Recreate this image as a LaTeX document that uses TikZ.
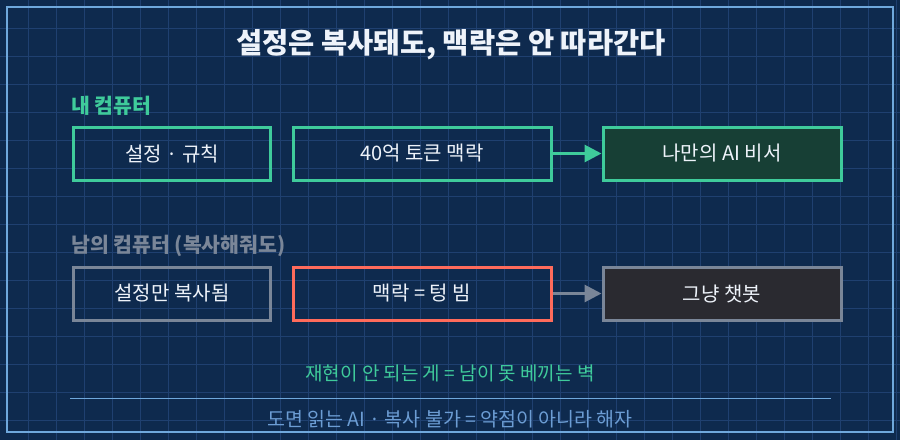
\documentclass[tikz,border=0pt]{standalone}
\usepackage{fontspec}
\setmainfont{Noto Sans CJK KR}
\usetikzlibrary{arrows.meta}
\definecolor{bg}{HTML}{0E2A4E}
\definecolor{gridc}{HTML}{1F4070}
\definecolor{framec}{HTML}{6FA8DC}
\definecolor{mygreen}{HTML}{3FCB9B}
\definecolor{mygray}{HTML}{7A8698}
\definecolor{myred}{HTML}{FF6B5B}
\definecolor{titlec}{HTML}{EEF3FA}
\definecolor{greenfill}{HTML}{173F35}
\definecolor{darkfill}{HTML}{2A2A30}
\definecolor{bottomc}{HTML}{6C9DD4}
\tikzset{
  box/.style={draw, line width=3pt, minimum height=53pt, inner sep=0pt, text=titlec, font=\fontsize{20}{22}\selectfont, anchor=north west},
  greenbox/.style={box, draw=mygreen},
  graybox/.style={box, draw=mygray},
  redbox/.style={box, draw=myred},
  conn/.style={line width=3pt, -{Triangle[length=17pt,width=17pt]}},
  sectlabel/.style={anchor=west, inner sep=0pt, font=\bfseries\fontsize{20.5}{23}\selectfont}
}
\begin{document}
\begin{tikzpicture}[x=1pt,y=-1pt]
\useasboundingbox (0,0) rectangle (900,440);
\fill[bg] (0,0) rectangle (900,440);
\foreach \i in {28,56,...,896} \draw[gridc, line width=1pt] (\i,0) -- (\i,440);
\foreach \j in {28,56,...,440} \draw[gridc, line width=1pt] (0,\j) -- (900,\j);
\draw[framec, line width=2pt] (7,7) rectangle (893,432);
\node[text=titlec, font=\bfseries\fontsize{28.5}{31}\selectfont] (title) at (451,45) {설정은 복사돼도, 맥락은 안 따라간다};
\node[sectlabel, text=mygreen] (lab1) at (71,106) {내 컴퓨터};
\node[greenbox, minimum width=197pt] (a1) at (72,125.5) {설정 · 규칙};
\node[greenbox, minimum width=258pt] (a2) at (291.5,125.5) {40억 토큰 맥락};
\node[greenbox, fill=greenfill, minimum width=238pt] (a3) at (601.5,125.5) {나만의 AI 비서};
\draw[conn, mygreen] (a2.east) -- (a3.west);
\node[sectlabel, text=mygray] (lab2) at (71,246) {남의 컴퓨터 (복사해줘도)};
\node[graybox, minimum width=197pt] (b1) at (72,265.5) {설정만 복사됨};
\node[redbox, minimum width=258pt] (b2) at (291.5,265.5) {맥락 = 텅 빔};
\node[graybox, fill=darkfill, minimum width=238pt] (b3) at (601.5,265.5) {그냥 챗봇};
\draw[conn, mygray] (b2.east) -- (b3.west);
\node[text=mygreen, font=\fontsize{19}{21}\selectfont] (note) at (450,373) {재현이 안 되는 게 = 남이 못 베끼는 벽};
\coordinate (l1) at (70,398);
\coordinate (l2) at (831,398);
\draw[framec, line width=1pt] (l1) -- (l2);
\node[text=bottomc, font=\fontsize{19.5}{21}\selectfont] (foot) at (450,419) {도면 읽는 AI · 복사 불가 = 약점이 아니라 해자};
\end{tikzpicture}
\end{document}
